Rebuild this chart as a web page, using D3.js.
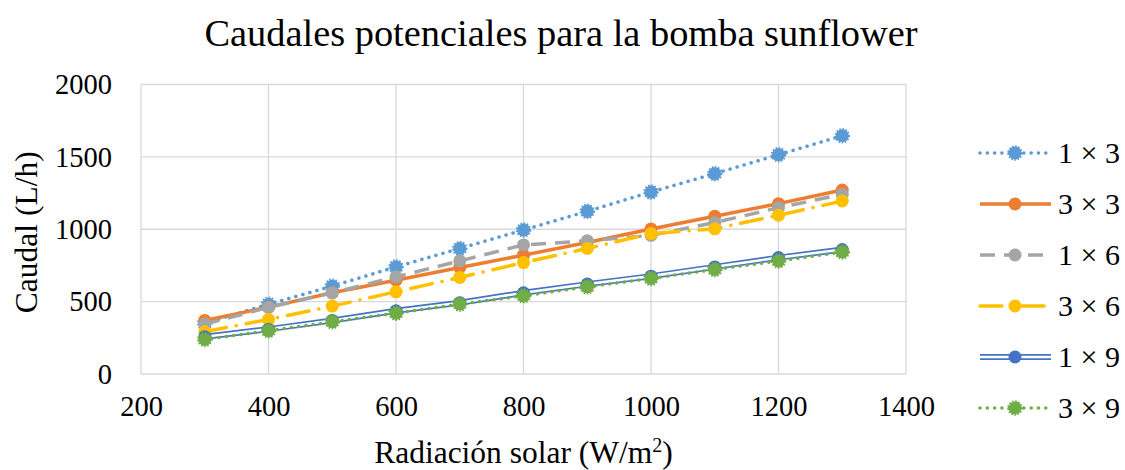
<!DOCTYPE html>
<html>
<head>
<meta charset="utf-8">
<script src="https://cdn.jsdelivr.net/npm/d3@7"></script>
<style>
  html, body { margin: 0; padding: 0; background: #fff; }
  svg { display: block; }
  text { font-family: "Liberation Serif", "Times New Roman", serif; fill: #000; }
</style>
</head>
<body>
<svg id="chart" width="1125" height="470"></svg>
<script>
// ---- data ----
const title = "Caudales potenciales para la bomba sunflower";
const xTitle = "Radiación solar (W/m";
const yTitle = "Caudal (L/h)";
const radiation = [300, 400, 500, 600, 700, 800, 900, 1000, 1100, 1200, 1300];
const seriesNames = ["1 × 3", "3 × 3", "1 × 6", "3 × 6", "1 × 9", "3 × 9"];
const s1x3 = [350, 482, 607, 740, 867, 995, 1124, 1257, 1384, 1515, 1646];
const s3x3 = [370, 462, 561, 648, 736, 821, 908, 1002, 1090, 1177, 1271];
const s1x6 = [345, 460, 561, 671, 781, 892, 920, 958, 1046, 1149, 1241];
const s3x6 = [292, 377, 469, 568, 667, 770, 867, 970, 1003, 1097, 1195];
const s1x9 = [257, 310, 370, 437, 492, 561, 621, 676, 740, 804, 860];
const s3x9 = [239, 299, 361, 420, 483, 540, 602, 660, 722, 781, 843];
const xTicks = [200, 400, 600, 800, 1000, 1200, 1400];
const yTicks = [0, 500, 1000, 1500, 2000];

const seriesValues = [s1x3, s3x3, s1x6, s3x6, s1x9, s3x9];
const colors = ["#5B9BD5", "#ED7D31", "#A5A5A5", "#FFC000", "#4472C4", "#70AD47"];
const styles = ["dot", "solid", "dash", "longDashDot", "double", "dot"];

const svg = d3.select("#chart");
const margin = { left: 141, right: 1125 - 906, top: 84.5, bottom: 470 - 374 };
const W = 1125, H = 470;

const x = d3.scaleLinear().domain([200, 1400]).range([margin.left, W - margin.right]);
const y = d3.scaleLinear().domain([0, 2000]).range([H - margin.bottom, margin.top]);

// gridlines
const grid = svg.append("g");
grid.selectAll("line.h").data(yTicks).join("line")
  .attr("x1", x(200)).attr("x2", x(1400))
  .attr("y1", d => y(d)).attr("y2", d => y(d))
  .attr("stroke", "#D9D9D9").attr("stroke-width", 1.3);
grid.selectAll("line.v").data(xTicks).join("line")
  .attr("y1", y(0)).attr("y2", y(2000))
  .attr("x1", d => x(d)).attr("x2", d => x(d))
  .attr("stroke", "#D9D9D9").attr("stroke-width", 1.3);

// axes labels via d3 axes (no lines)
const yAxis = svg.append("g").attr("transform", `translate(${x(200)},0)`)
  .call(d3.axisLeft(y).tickValues(yTicks).tickSize(0).tickPadding(29).tickFormat(d3.format("d")));
const xAxis = svg.append("g").attr("transform", `translate(0,${y(0)})`)
  .call(d3.axisBottom(x).tickValues(xTicks).tickSize(0).tickPadding(22).tickFormat(d3.format("d")));
[yAxis, xAxis].forEach(g => {
  g.select(".domain").remove();
  g.selectAll("text").attr("font-size", 28.5).attr("font-family", "Liberation Serif").attr("fill", "#000");
});

// titles
svg.append("text").attr("x", 561).attr("y", 46).attr("text-anchor", "middle")
  .attr("font-size", 38.4).text(title);
const xt = svg.append("text").attr("x", (x(200) + x(1400)) / 2).attr("y", 463)
  .attr("text-anchor", "middle").attr("font-size", 31.5);
xt.append("tspan").text(xTitle);
xt.append("tspan").attr("font-size", 20).attr("dy", -11).text("2");
xt.append("tspan").attr("dy", 11).text(")");
svg.append("text").attr("transform", `translate(37,${(y(0) + y(2000)) / 2 + 3}) rotate(-90)`)
  .attr("text-anchor", "middle").attr("font-size", 31.5).text(yTitle);

// line styling
function styleLine(sel, style, color) {
  sel.attr("fill", "none").attr("stroke", color);
  if (style === "dot") sel.attr("stroke-width", 3.5).attr("stroke-dasharray", "0.1 7.2").attr("stroke-linecap", "round");
  else if (style === "solid") sel.attr("stroke-width", 3.5);
  else if (style === "dash") sel.attr("stroke-width", 3.5).attr("stroke-dasharray", "15 9");
  else if (style === "longDashDot") sel.attr("stroke-width", 3.5).attr("stroke-dasharray", "22 10 0.1 10").attr("stroke-linecap", "round");
  else if (style === "double") sel.attr("stroke-width", 6);
}
function drawMarker(g, cx, cy, style, color, r) {
  const c = g.append("circle").attr("cx", cx).attr("cy", cy).attr("r", r).attr("fill", color);
  if (style === "dot") {
    c.attr("stroke", color).attr("stroke-width", 2.5).attr("stroke-dasharray", "1.5 1.5");
  }
}

const line = d3.line().x((d, i) => x(radiation[i])).y(d => y(d));
const plot = svg.append("g");
seriesValues.forEach((vals, si) => {
  const g = plot.append("g");
  const p = g.append("path").attr("d", line(vals));
  styleLine(p, styles[si], colors[si]);
  if (styles[si] === "double") {
    g.append("path").attr("d", line(vals)).attr("fill", "none")
      .attr("stroke", "#fff").attr("stroke-width", 2.6);
  }
  vals.forEach((v, i) => drawMarker(g, x(radiation[i]), y(v), styles[si], colors[si], 6.5));
});

// legend
const legY = [153, 204, 255, 306, 357, 408];
const legend = svg.append("g");
seriesNames.forEach((name, si) => {
  const g = legend.append("g");
  const ly = legY[si];
  const p = g.append("path").attr("d", `M980,${ly}L1051,${ly}`);
  styleLine(p, styles[si], colors[si]);
  if (styles[si] === "double") {
    g.append("path").attr("d", `M980,${ly}L1051,${ly}`).attr("fill", "none")
      .attr("stroke", "#fff").attr("stroke-width", 2.6);
  }
  drawMarker(g, 1015, ly, styles[si], colors[si], 6.5);
  g.append("text").attr("x", 1058).attr("y", ly + 10).attr("font-size", 30).text(name);
});
</script>
</body>
</html>
